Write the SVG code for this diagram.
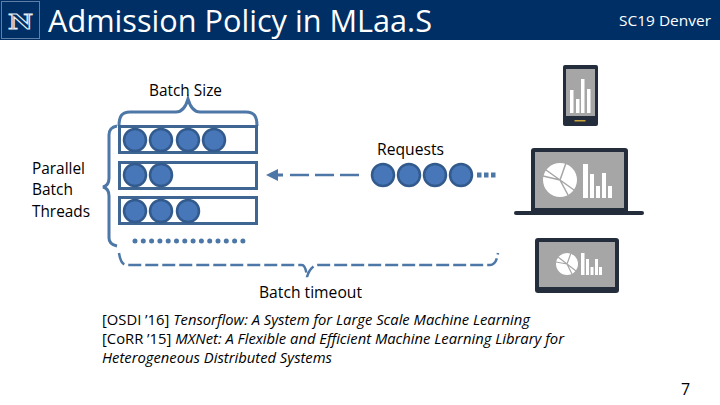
<svg xmlns="http://www.w3.org/2000/svg" width="720" height="405" viewBox="0 0 720 405">
<defs>
<style>
text{font-family:"Open Sans","Noto Sans","Liberation Sans",sans-serif;fill:#000}
.lab{font-size:15.5px}
.ref{font-size:14.5px}
.row{fill:#fff;stroke:#3f6592;stroke-width:3}
.c{fill:#4777b8;stroke:#325a8c;stroke-width:2.500}
.br{fill:none;stroke:#4c77a6;stroke-width:3}
.dash{fill:none;stroke:#4c77a6;stroke-width:2.500}
.dark{fill:#242d3b}
.scr{fill:#a6a6a6}
.w{fill:#fff}
</style>
</defs>
<rect width="720" height="40" fill="#002f65"/>
<g id="logo">
<rect x="1.500" y="1.500" width="38" height="37" fill="none" stroke="#5f7fa6" stroke-width="1"/>
<text x="20.500" y="29" text-anchor="middle" style="font-family:'Liberation Serif',serif;font-size:24px;font-weight:bold;fill:#002f65;stroke:#e8eef5;stroke-width:1" textLength="24" lengthAdjust="spacingAndGlyphs">N</text>
</g>
<g id="title"><text x="48" y="32" font-size="31" textLength="384" lengthAdjust="spacingAndGlyphs" style="fill:#fff">Admission Policy in MLaa.S</text></g>
<g id="venue"><text x="619" y="26" font-size="14.500" textLength="92" lengthAdjust="spacingAndGlyphs" style="fill:#fff">SC19 Denver</text></g>

<g id="connectors">
<path class="br" d="M119 126C119 116 122 112 130 112H176C183 112 186 106 188 99C190 106 193 112 200 112H246C254 112 257 116 257 126"/>
<path class="br" d="M117 126C112 127 109 129 109 135V178C109 183 107 186 103 187C107 188 109 191 109 196V238C109 243 112 245 117 246"/>
<path class="dash" d="M119 253C120 260 122 265 127 265H302C305 265 306 270 307 277C309 270 313 265 318 265H490C494 265 497 261 498 253" stroke-dasharray="13 4"/>
<path class="dash" d="M290 175H359" stroke-dasharray="19 6"/>
<path d="M266 175L278 169V181Z" fill="#4c77a6"/>
<path d="M278 175H283" stroke="#4c77a6" stroke-width="3"/>
<path d="M135 241H245" fill="none" stroke="#4c77a6" stroke-width="5" stroke-linecap="round" stroke-dasharray="0 8.300"/>
<path d="M231 140H250" fill="none" stroke="#4c77a6" stroke-width="5" stroke-dasharray="4.500 2.500"/>
<path d="M477 175H497" fill="none" stroke="#4c77a6" stroke-width="5" stroke-dasharray="4.500 2.500"/>
</g>

<g id="thread1"><rect class="row" x="119.500" y="126.500" width="137" height="26"/><circle class="c" cx="135" cy="140" r="11"/><circle class="c" cx="161" cy="140" r="11"/><circle class="c" cx="188" cy="140" r="11"/><circle class="c" cx="214" cy="140" r="11"/></g>
<g id="thread2"><rect class="row" x="119.500" y="162.500" width="137" height="26"/><circle class="c" cx="135" cy="175" r="11"/><circle class="c" cx="161" cy="175" r="11"/></g>
<g id="thread3"><rect class="row" x="119.500" y="197.500" width="137" height="26"/><circle class="c" cx="135" cy="211" r="11"/><circle class="c" cx="161" cy="211" r="11"/><circle class="c" cx="188" cy="211" r="11"/></g>
<g id="requests"><circle class="c" cx="383" cy="175" r="11"/><circle class="c" cx="409" cy="175" r="11"/><circle class="c" cx="435" cy="175" r="11"/><circle class="c" cx="461" cy="175" r="11"/></g>

<g id="labels">
<text class="lab" x="149" y="96" textLength="73" lengthAdjust="spacingAndGlyphs">Batch Size</text>
<text class="lab" x="377" y="155" textLength="67" lengthAdjust="spacingAndGlyphs">Requests</text>
<text class="lab" x="32" y="174" textLength="53" lengthAdjust="spacingAndGlyphs">Parallel</text>
<text class="lab" x="32" y="195" textLength="41" lengthAdjust="spacingAndGlyphs">Batch</text>
<text class="lab" x="32" y="217" textLength="58" lengthAdjust="spacingAndGlyphs">Threads</text>
<text class="lab" x="259" y="298" textLength="103" lengthAdjust="spacingAndGlyphs">Batch timeout</text>
<text class="ref" x="102" y="325" textLength="428" lengthAdjust="spacingAndGlyphs">[OSDI ’16] <tspan font-style="italic">Tensorflow: A System for Large Scale Machine Learning</tspan></text>
<text class="ref" x="102" y="344" textLength="462" lengthAdjust="spacingAndGlyphs">[CoRR ’15] <tspan font-style="italic">MXNet: A Flexible and Efficient Machine Learning Library for</tspan></text>
<text class="ref" x="102" y="363" font-style="italic" textLength="230" lengthAdjust="spacingAndGlyphs">Heterogeneous Distributed Systems</text>
<text x="681" y="395" font-size="16">7</text>
</g>

<g id="phone">
<rect class="dark" x="563" y="65" width="35" height="61" rx="2"/>
<rect class="scr" x="566" y="69" width="29" height="47"/>
<rect class="w" x="570" y="90" width="3.500" height="23"/><rect class="w" x="576" y="99" width="3.500" height="14"/><rect class="w" x="581" y="79" width="3.500" height="34"/><rect class="w" x="587" y="89" width="3.500" height="24"/>
<rect x="574.500" y="120" width="11" height="1.500" fill="#c9a23c"/>
</g>

<g id="laptop">
<rect class="dark" x="531" y="148" width="97" height="67" rx="3"/>
<rect class="scr" x="535" y="152" width="89" height="56"/>
<rect class="dark" x="514" y="211" width="130" height="4" rx="2"/>
<circle class="w" cx="560" cy="180" r="17"/>
<path d="M560 180L566 163M560 180L574 190M560 180L543 176M560 180L546 170M560 180L568 195" stroke="#a6a6a6" stroke-width="1.500" fill="none"/>
<rect class="w" x="583" y="164" width="5" height="34"/><rect class="w" x="590" y="174" width="4" height="24"/><rect class="w" x="596" y="186" width="4" height="12"/><rect class="w" x="602" y="173" width="4" height="25"/><rect class="w" x="608" y="186" width="4" height="12"/>
</g>

<g id="monitor">
<rect class="dark" x="535" y="238" width="84" height="55" rx="3"/>
<rect class="scr" x="539" y="242" width="76" height="45"/>
<circle class="w" cx="567" cy="264" r="11"/>
<path d="M567 264L571 253M567 264L576 271M567 264L556 262M567 264L558 257M567 264L572 274" stroke="#a6a6a6" stroke-width="1.200" fill="none"/>
<rect class="w" x="581" y="253" width="3.500" height="22"/><rect class="w" x="586" y="259" width="3" height="16"/><rect class="w" x="590.500" y="267" width="3" height="8"/><rect class="w" x="595" y="259" width="3" height="16"/><rect class="w" x="599" y="267" width="3" height="8"/>
</g>
</svg>
